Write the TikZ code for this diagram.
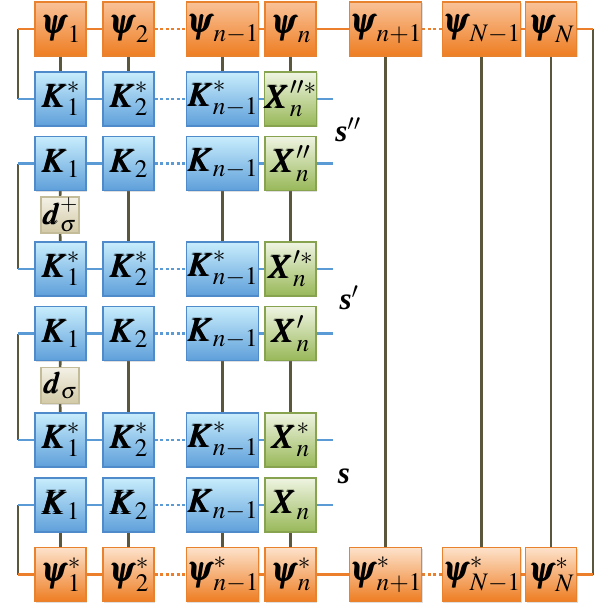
\documentclass[tikz,border=0pt]{standalone}
\usepackage{mathptmx}
\usepackage{bm}
\usepackage{fontspec}
\setmainfont{Liberation Serif}
\usetikzlibrary{shadows,backgrounds}

\definecolor{psitopA}{HTML}{F9C298}
\definecolor{psitopB}{HTML}{FDE2CB}
\definecolor{psibot}{HTML}{EE7D22}
\definecolor{psiedge}{HTML}{E9822E}
\definecolor{ktop}{HTML}{C8EDFC}
\definecolor{kbot}{HTML}{5E9FDA}
\definecolor{kedge}{HTML}{4F8ACB}
\definecolor{xtop}{HTML}{EFF4E2}
\definecolor{xbot}{HTML}{98B858}
\definecolor{xedge}{HTML}{87A350}
\definecolor{dtop}{HTML}{F4F1E6}
\definecolor{dbot}{HTML}{D2C9A6}
\definecolor{dedge}{HTML}{C4BC98}
\definecolor{olive}{HTML}{5A573D}
\definecolor{orline}{HTML}{EC7F2C}
\definecolor{blline}{HTML}{5B9BD5}

\tikzset{
  box/.style={minimum width=51pt, minimum height=54pt, inner sep=0pt, line width=1.1pt,
    font=\fontsize{34}{34}\selectfont,
    drop shadow={opacity=0.25, shadow xshift=1.2pt, shadow yshift=-1.2pt}},
  psiA/.style={box, draw=psiedge, top color=psitopA, bottom color=psibot},
  psiB/.style={box, draw=psiedge, top color=psitopB, bottom color=psibot},
  kb/.style={box, draw=kedge, top color=ktop, bottom color=kbot},
  xb/.style={box, draw=xedge, top color=xtop, bottom color=xbot},
  db/.style={box, minimum width=38pt, minimum height=36pt, draw=dedge, top color=dtop, bottom color=dbot,
    font=\fontsize{30}{30}\selectfont},
  vline/.style={draw=olive, line width=2.6pt},
  oline/.style={draw=orline, line width=2.6pt},
  odot/.style={oline, dash pattern=on 3pt off 2.5pt},
  bline/.style={draw=blline, line width=2.6pt},
  bdot/.style={bline, dash pattern=on 3pt off 2.5pt},
  slab/.style={font=\fontsize{31}{31}\selectfont\bfseries\itshape, inner sep=0pt}
}

\begin{document}
\begin{tikzpicture}[x=1pt, y=-1pt]
\useasboundingbox (0,0) rectangle (612,608);

% top row of wave functions
\node[psiA] (p1) at (60.5,29) {$\bm{\psi}_1$};
\node[psiA] (p2) at (128.5,29) {$\bm{\psi}_2$};
\node[psiA] (p3) at (222.5,29) {$\bm{\psi}_{n-1}$};
\node[psiA] (p4) at (290.5,29) {$\bm{\psi}_n$};
\node[psiA] (p5) at (385.5,29) {$\bm{\psi}_{n+1}$};
\node[psiA] (p6) at (481.5,29) {$\bm{\psi}_{N-1}$};
\node[psiA] (p7) at (551,29) {$\bm{\psi}_N$};

% level s''
\node[kb] (a1) at (60.5,99) {$\bm{K}_1^*$};
\node[kb] (a2) at (128.5,99) {$\bm{K}_2^*$};
\node[kb] (a3) at (222.5,99) {$\bm{K}_{n-1}^*$};
\node[xb] (a4) at (290.5,99) {$\bm{X}_n^{\prime\prime *}$};

\node[kb] (b1) at (60.5,163.5) {$\bm{K}_1$};
\node[kb] (b2) at (128.5,163.5) {$\bm{K}_2$};
\node[kb] (b3) at (222.5,163.5) {$\bm{K}_{n-1}$};
\node[xb] (b4) at (290.5,163.5) {$\bm{X}_n^{\prime\prime}$};

\node[db] (dp) at (60,215) {$\bm{d}_\sigma^+$};

% level s'
\node[kb] (c1) at (60.5,269) {$\bm{K}_1^*$};
\node[kb] (c2) at (128.5,269) {$\bm{K}_2^*$};
\node[kb] (c3) at (222.5,269) {$\bm{K}_{n-1}^*$};
\node[xb] (c4) at (290.5,269) {$\bm{X}_n^{\prime *}$};

\node[kb] (e1) at (60.5,333.5) {$\bm{K}_1$};
\node[kb] (e2) at (128.5,333.5) {$\bm{K}_2$};
\node[kb] (e3) at (222.5,333.5) {$\bm{K}_{n-1}$};
\node[xb] (e4) at (290.5,333.5) {$\bm{X}_n^{\prime}$};

\node[db] (dd) at (60,385.5) {$\bm{d}_\sigma$};

% level s
\node[kb] (f1) at (60.5,440) {$\bm{K}_1^*$};
\node[kb] (f2) at (128.5,440) {$\bm{K}_2^*$};
\node[kb] (f3) at (222.5,440) {$\bm{K}_{n-1}^*$};
\node[xb] (f4) at (290.5,440) {$\bm{X}_n^*$};

\node[kb] (g1) at (60.5,505) {$\bm{K}_1$};
\node[kb] (g2) at (128.5,505) {$\bm{K}_2$};
\node[kb] (g3) at (222.5,505) {$\bm{K}_{n-1}$};
\node[xb] (g4) at (290.5,505) {$\bm{X}_n$};

% bottom row of conjugate wave functions
\node[psiB] (h1) at (60.5,574.5) {$\bm{\psi}_1^*$};
\node[psiB] (h2) at (128.5,574.5) {$\bm{\psi}_2^*$};
\node[psiB] (h3) at (222.5,574.5) {$\bm{\psi}_{n-1}^*$};
\node[psiB] (h4) at (290.5,574.5) {$\bm{\psi}_n^*$};
\node[psiB] (h5) at (385.5,574.5) {$\bm{\psi}_{n+1}^*$};
\node[psiB] (h6) at (481.5,574.5) {$\bm{\psi}_{N-1}^*$};
\node[psiB] (h7) at (551,574.5) {$\bm{\psi}_N^*$};

% level labels
\node[slab] (s2) at (348,130) {s$^{\prime\prime}$};
\node[slab] (s1) at (349,298) {s$^{\prime}$};
\node[slab] (s0) at (344,476) {s};

% free ends of the connectors
\coordinate (l0) at (18,29);   \coordinate (l1) at (18,99);
\coordinate (l2) at (18,163.5);\coordinate (l3) at (18,269);
\coordinate (l4) at (18,333.5);\coordinate (l5) at (18,440);
\coordinate (l6) at (18,505);  \coordinate (l7) at (18,574.5);
\coordinate (r0) at (593,29);  \coordinate (r7) at (593,574.5);
\coordinate (ta) at (333,99);  \coordinate (tb) at (333,163.5);
\coordinate (tc) at (333,269); \coordinate (te) at (333,333.5);
\coordinate (tf) at (333,440); \coordinate (tg) at (333,505);

\begin{pgfonlayer}{background}
  % vertical links
  \draw[vline] (l0) -- (l1);
  \draw[vline] (l2) -- (l3);
  \draw[vline] (l4) -- (l5);
  \draw[vline] (l6) -- (l7);
  \draw[vline] (r0) -- (r7);
  \foreach \i in {1,...,4} {
    \draw[vline] (p\i) -- (a\i);
    \draw[vline] (g\i) -- (h\i);
  }
  \foreach \i in {2,3,4} {
    \draw[vline] (b\i) -- (c\i);
    \draw[vline] (e\i) -- (f\i);
  }
  \draw[vline] (b1) -- (dp) -- (c1);
  \draw[vline] (e1) -- (dd) -- (f1);
  \foreach \i in {5,6,7} \draw[vline] (p\i) -- (h\i);

  % wave function chains
  \draw[oline] (l0) -- (p1) -- (p2);
  \draw[odot] (p2) -- (p3);
  \draw[oline] (p3) -- (p4) -- (p5);
  \draw[odot] (p5) -- (p6);
  \draw[oline] (p6) -- (p7) -- (r0);
  \draw[oline] (l7) -- (h1) -- (h2);
  \draw[odot] (h2) -- (h3);
  \draw[oline] (h3) -- (h4) -- (h5);
  \draw[odot] (h5) -- (h6);
  \draw[oline] (h6) -- (h7) -- (r7);

  % kernel chains
  \foreach \r/\t/\L in {a/ta/l1, b/tb/l2, c/tc/l3, e/te/l4, f/tf/l5, g/tg/l6} {
    \draw[bline] (\L) -- (\r1) -- (\r2);
    \draw[bdot] (\r2) -- (\r3);
    \draw[bline] (\r3) -- (\r4) -- (\t);
  }
\end{pgfonlayer}
\end{tikzpicture}
\end{document}
